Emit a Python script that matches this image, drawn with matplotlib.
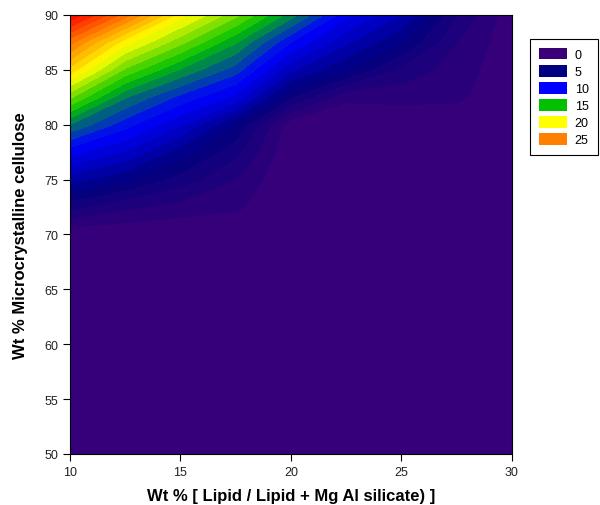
import numpy as np
import matplotlib
matplotlib.use("Agg")
import matplotlib.pyplot as plt
from matplotlib.colors import LinearSegmentedColormap
from matplotlib.patches import Patch

plt.rcParams['font.family'] = ['Liberation Sans', 'DejaVu Sans']

# grid
x_vals = [10, 12.5, 15, 17.5, 20, 22.5, 25, 27.5, 30]
y_vals = [50, 60, 70, 72.5, 75, 77.5, 80, 82.5, 85, 87.5, 90]
z_vals = [
    [0, 0, 0, 0, 0, 0, 0, 0, 0],
    [0, 0, 0, 0, 0, 0, 0, 0, 0],
    [0.2, 0.1, 0, 0, 0, 0, 0, 0, 0],
    [3.3, 2.2, 1.6, 1.2, 0, 0, 0, 0, 0],
    [6.5, 5.1, 3.5, 2.0, 0, 0, 0, 0, 0],
    [9.4, 7.9, 5.5, 3.3, 0.1, 0, 0, 0, 0],
    [13, 10.4, 8.1, 4.9, 0.3, 0.2, 0.2, 0.2, 0],
    [17.2, 13.1, 10.7, 8.7, 4, 1.2, 1.3, 1.2, 0.3],
    [21.6, 16.8, 13.9, 11.5, 7.2, 5, 2.7, 1.5, 0.3],
    [25.3, 20.4, 17.3, 14.1, 10, 7.2, 5, 2, 0.3],
    [30, 25.5, 20.5, 17.3, 13.5, 9.3, 7, 3, 0.3],
]

legend_labels = ['0', '5', '10', '15', '20', '25']
legend_colors = ['#3a0078', '#000080', '#0000ff', '#00c000', '#ffff00', '#ff8000']

cmap = LinearSegmentedColormap.from_list(
    'sp', legend_colors + ['#ff0000'])

X, Y = np.meshgrid(x_vals, y_vals)
Z = np.array(z_vals)

fig = plt.figure(figsize=(6, 5.06), dpi=100)
ax = fig.add_axes([0.1167, 0.1008, 0.7363, 0.8676])
ax.contourf(X, Y, Z, levels=np.arange(0, 31, 1), cmap=cmap, vmin=0, vmax=30)

ax.set_xlim(10, 30)
ax.set_ylim(50, 90)
ax.set_xticks([10, 15, 20, 25, 30])
ax.set_yticks([50, 55, 60, 65, 70, 75, 80, 85, 90])
ax.tick_params(labelsize=9, length=5, direction='out', labelcolor='#222222')
for s in ax.spines.values():
    s.set_linewidth(0.8)

ax.set_xlabel('Wt % [ Lipid / Lipid + Mg Al silicate) ]', fontsize=12,
              fontweight='bold', labelpad=7)
ax.set_ylabel('Wt % Microcrystalline cellulose', fontsize=12,
              fontweight='bold', labelpad=12)

handles = [Patch(facecolor=c, edgecolor='none') for c in legend_colors]
leg = fig.legend(handles, legend_labels, loc='upper left',
                 bbox_to_anchor=(0.883, 0.921), borderaxespad=0,
                 fontsize=9, handlelength=2.24, handleheight=1.04,
                 labelspacing=0.32, fancybox=False, framealpha=1,
                 edgecolor='black', borderpad=0.72, handletextpad=0.64)
leg.get_frame().set_linewidth(0.8)

plt.savefig('out.png', dpi=100)
